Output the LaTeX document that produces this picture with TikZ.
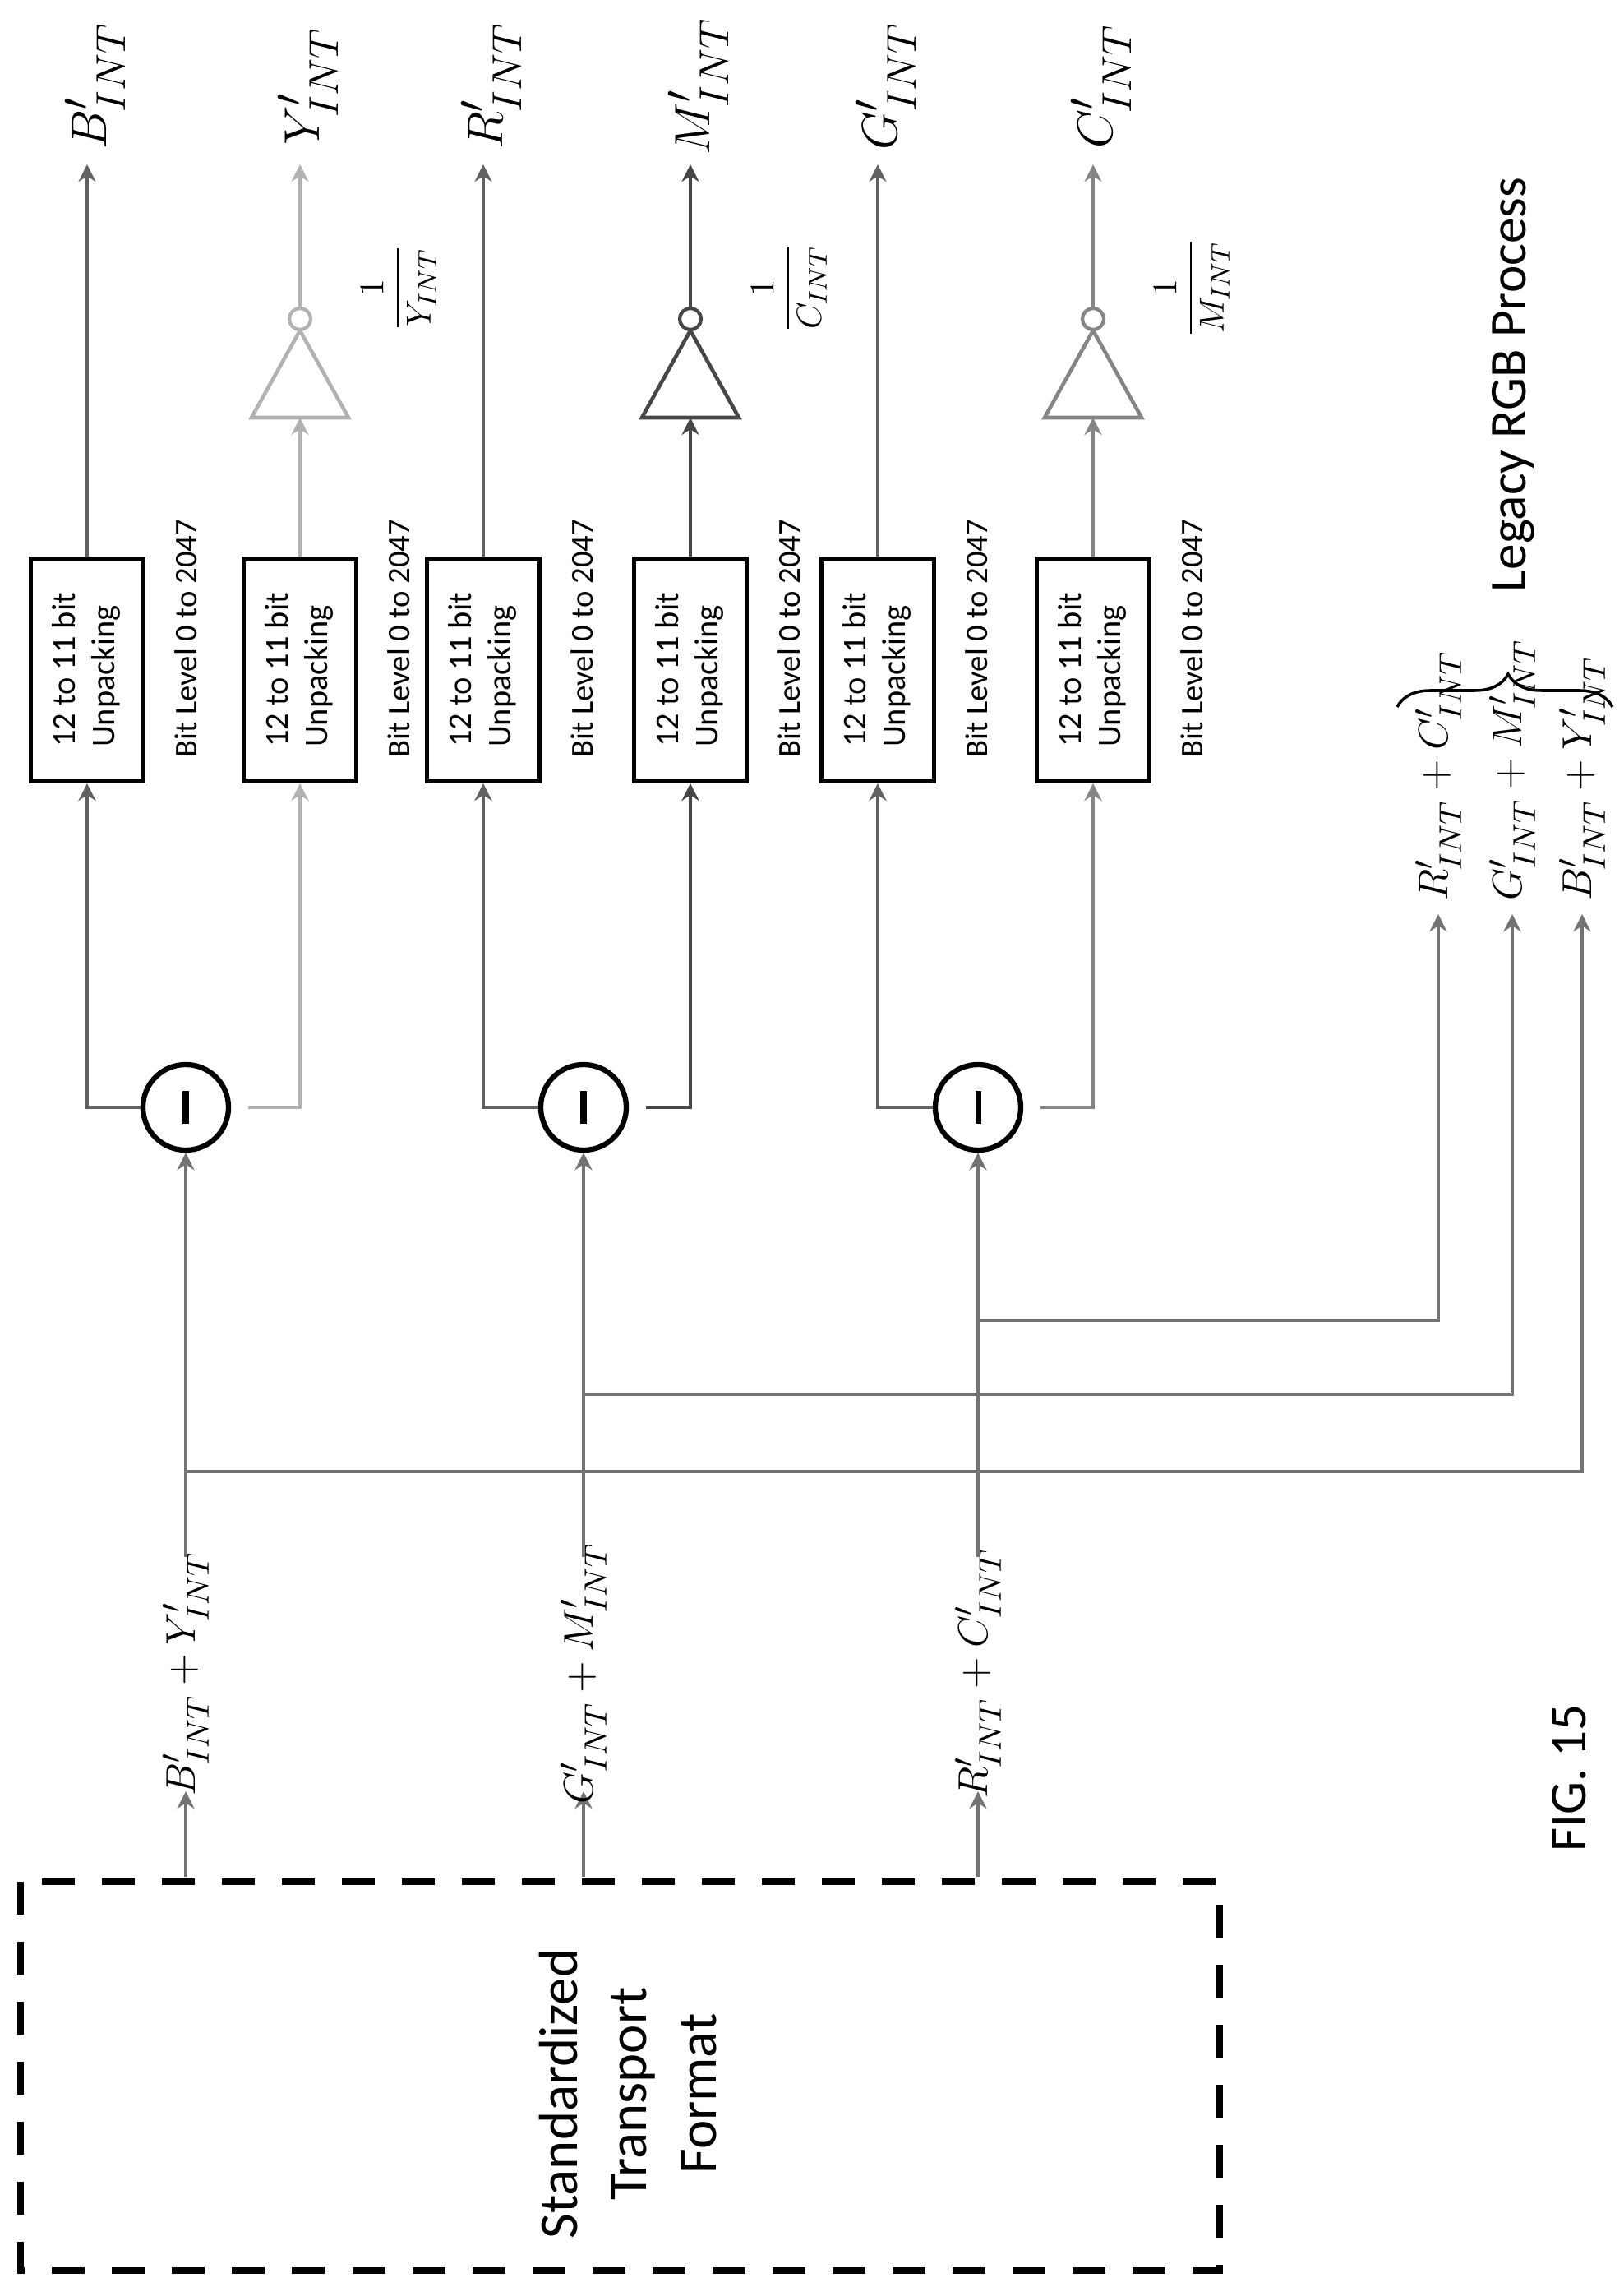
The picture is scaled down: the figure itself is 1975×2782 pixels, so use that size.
\documentclass[tikz,border=0pt]{standalone}
\usepackage{amsmath}
\usepackage{fontspec}
\setmainfont{Carlito}
\usetikzlibrary{arrows.meta}
\usetikzlibrary{decorations.pathreplacing}

\colorlet{chB}{black!62}
\colorlet{chY}{black!30}
\colorlet{chR}{black!62}
\colorlet{chM}{black!72}
\colorlet{chG}{black!62}
\colorlet{chC}{black!48}
\colorlet{feed}{black!55}

\tikzset{
  unpack/.style={draw=black, line width=1.6pt, minimum width=1.37cm, minimum height=2.7cm, inner sep=0pt, fill=white},
  sub/.style={draw=black, circle, line width=1.8pt, minimum size=1.04cm, inner sep=0pt},
  bubble/.style={circle, minimum size=0.26cm, inner sep=0pt, line width=1.2pt, fill=white},
  sig/.style={line width=1.1pt},
  mathlbl/.style={rotate=90, inner sep=1pt, font=\fontsize{15}{17}\selectfont},
}

\begin{document}
\begin{tikzpicture}[x=0.01cm, y=-0.01cm, >={Stealth[length=6pt,width=6pt]}]
    \useasboundingbox (0,0) rectangle (1975,2782);

    % transport block
    \draw[line width=2.2pt, dash pattern=on 4mm off 3.3mm] (25,2289) rectangle (1484,2762);
    \node[rotate=90, align=center, font=\fontsize{19}{24}\selectfont] (stf) at (764,2547) {Standardized\\Transport\\Format};

    % the six channels
    \foreach \n/\x/\col/\inv/\den in {B/106/chB/0/Y, Y/365/chY/1/Y, R/588/chR/0/Y, M/840/chM/1/C, G/1068/chG/0/G, C/1330/chC/1/M} {
        \node[unpack] (box\n) at (\x,815) {\rotatebox{90}{\fontsize{11.5}{13.5}\selectfont\begin{tabular}{@{}l@{}}12 to 11 bit\\Unpacking\end{tabular}}};
        \node[rotate=90, anchor=west, inner sep=0pt, font=\fontsize{11}{13}\selectfont] (bit\n) at (\x+120,922) {Bit Level 0 to 2047};
        \node[rotate=90, inner sep=0pt, font=\fontsize{19}{22}\selectfont] (out\n) at (\x+10,105) {$\n'_{INT}$};
        \coordinate (tip\n) at (\x,200);
        \ifnum\inv=1
            \draw[\col, line width=1.3pt] (\x,402) -- (\x-59,508) -- (\x+59,508) -- cycle;
            \coordinate (tri\n) at (\x,508);
            \node[bubble, draw=\col] (inv\n) at (\x,388) {};
            \draw[->, sig, \col] (box\n.north) -- (tri\n);
            \draw[->, sig, \col] (inv\n.north) -- (tip\n);
            \node[rotate=90, inner sep=0pt, font=\fontsize{13}{15}\selectfont] (rec\n) at (\x+120,350) {$\dfrac{1}{\den_{INT}}$};
        \else
            \draw[->, sig, \col] (box\n.north) -- (tip\n);
        \fi
    }

    % subtractors
    \foreach \i/\x/\l/\r/\lc/\rc in {1/226/B/Y/chB/chY, 2/710/R/M/chR/chM, 3/1190/G/C/chG/chC} {
        \node[sub] (sub\i) at (\x,1347) {};
        \draw[line width=2pt] (\x,1327) -- (\x,1367);
        \draw[->, sig, \lc] (sub\i.west) -| (box\l.south);
        \draw[->, sig, \rc] ([xshift=6]sub\i.east) -| (box\r.south);
    }

    % inputs from the transport format
    \foreach \i/\x/\lbl in {1/226/{B'_{INT}+Y'_{INT}}, 2/710/{G'_{INT}+M'_{INT}}, 3/1190/{R'_{INT}+C'_{INT}}} {
        \coordinate (src\i) at (\x,2283);
        \coordinate (lab\i) at (\x,2179);
        \coordinate (in\i) at (\x,1894);
        \draw[->, feed, line width=0.9pt] (src\i) -- (lab\i);
        \node[mathlbl] (txt\i) at (\x,2036) {$\lbl$};
        \draw[->, sig, feed] (in\i) -- (sub\i.south);
    }

    % legacy RGB taps
    \foreach \i/\xs/\y/\x/\lbl in {1/226/1790/1925/{B'_{INT}+Y'_{INT}}, 2/710/1696/1840/{G'_{INT}+M'_{INT}}, 3/1190/1606/1750/{R'_{INT}+C'_{INT}}} {
        \coordinate (bus\i) at (\xs,\y);
        \coordinate (tap\i) at (\x,1112);
        \draw[->, sig, feed] (bus\i) -| (tap\i);
        \node[mathlbl, anchor=west] (leg\i) at (\x,1100) {$\lbl$};
    }

    \draw[line width=1pt, decorate, decoration={brace, amplitude=4mm, aspect=0.515}] (1700,860) -- (1962,860);
    \node[rotate=90, font=\fontsize{18}{22}\selectfont] (legacy) at (1841,468) {Legacy RGB Process};

    \node[rotate=90, font=\fontsize{18}{22}\selectfont] (fig) at (1909,2163) {FIG. 15};

\end{tikzpicture}
\end{document}
